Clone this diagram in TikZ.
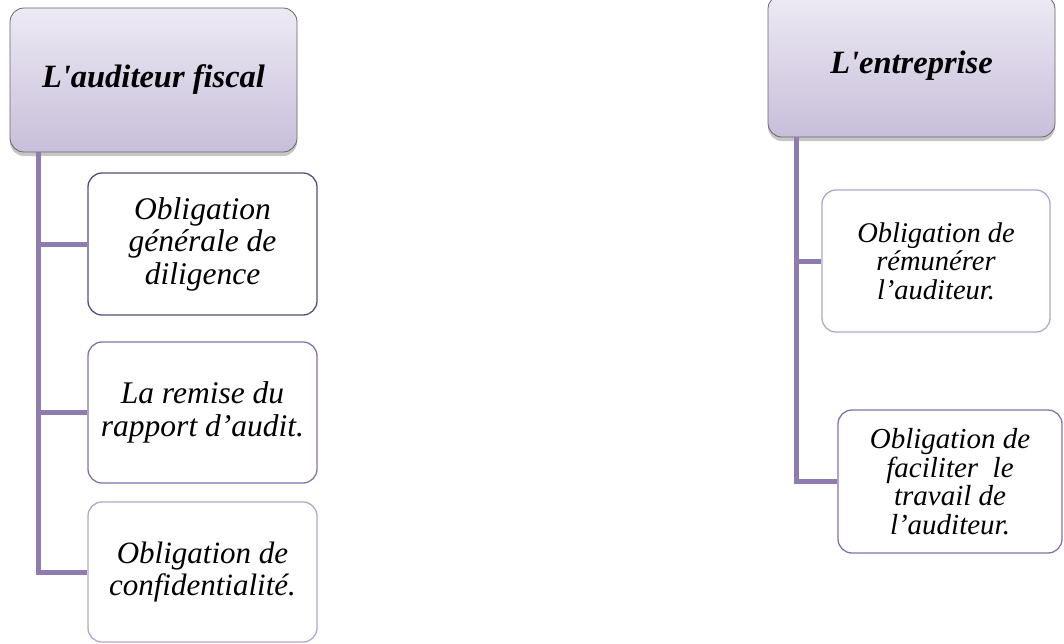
\documentclass[tikz,border=0pt]{standalone}
\usepackage{fontspec}
\setmainfont{Liberation Serif}
\newfontfamily\headfont{Liberation Serif}
\usetikzlibrary{shadows}

\definecolor{trunkcol}{HTML}{8E7CB0}
\definecolor{darkedge}{HTML}{5C4A7C}
\definecolor{midedge}{HTML}{8571A8}
\definecolor{lightedge}{HTML}{B4A6CA}
\definecolor{headtop}{HTML}{EDEAF4}
\definecolor{headbot}{HTML}{C8BEDA}

\tikzset{
  headbox/.style={draw=gray!80!black, line width=0.8pt, rounded corners=14pt,
    top color=headtop, bottom color=headbot, minimum width=287pt,
    drop shadow={shadow xshift=0pt, shadow yshift=-4pt, opacity=0.45},
    font=\fontsize{32.5}{36}\headfont\bfseries\itshape},
  childbox/.style={draw, fill=white, line width=1.3pt, rounded corners=14pt,
    align=center, inner sep=2pt},
  trunk/.style={draw=trunkcol, line width=5pt}
}

\begin{document}
\begin{tikzpicture}[x=1pt, y=-1pt]
    \useasboundingbox (0,0) rectangle (1064,643);

    % left column
    \node[headbox, minimum height=144pt] (lhead) at (153.5,80) {L'auditeur fiscal};
    \node[childbox, draw=darkedge, minimum width=229pt, minimum height=142pt,
      font=\fontsize{31.5}{32.5}\selectfont\itshape] (lc1) at (202.5,244)
      {Obligation\\générale de\\diligence};
    \node[childbox, draw=midedge, minimum width=229pt, minimum height=141pt,
      font=\fontsize{31.5}{32.5}\selectfont\itshape] (lc2) at (202.5,412.5)
      {La remise du\\rapport d’audit.};
    \node[childbox, draw=lightedge, minimum width=229pt, minimum height=140pt,
      font=\fontsize{31}{32.5}\selectfont\itshape] (lc3) at (202.5,572)
      {Obligation de\\confidentialité.};

    % right column
    \node[headbox, minimum height=142pt] (rhead) at (911.5,66) {\raisebox{-8pt}{L'entreprise}};
    \node[childbox, draw=lightedge, minimum width=228pt, minimum height=142pt,
      font=\fontsize{28.5}{28.5}\selectfont\itshape] (rc1) at (936,261)
      {Obligation de\\rémunérer\\l’auditeur.};
    \node[childbox, draw=midedge, minimum width=224pt, minimum height=143pt,
      font=\fontsize{29}{28.5}\selectfont\itshape] (rc2) at (950,481.5)
      {Obligation de\\faciliter~ le\\travail de\\l’auditeur.};

    % connectors
    \foreach \c in {lc1,lc2,lc3}
      \draw[trunk] ([xshift=29pt]lhead.south west) |- (\c.west);
    \foreach \c in {rc1,rc2}
      \draw[trunk] ([xshift=29pt]rhead.south west) |- (\c.west);
\end{tikzpicture}
\end{document}
